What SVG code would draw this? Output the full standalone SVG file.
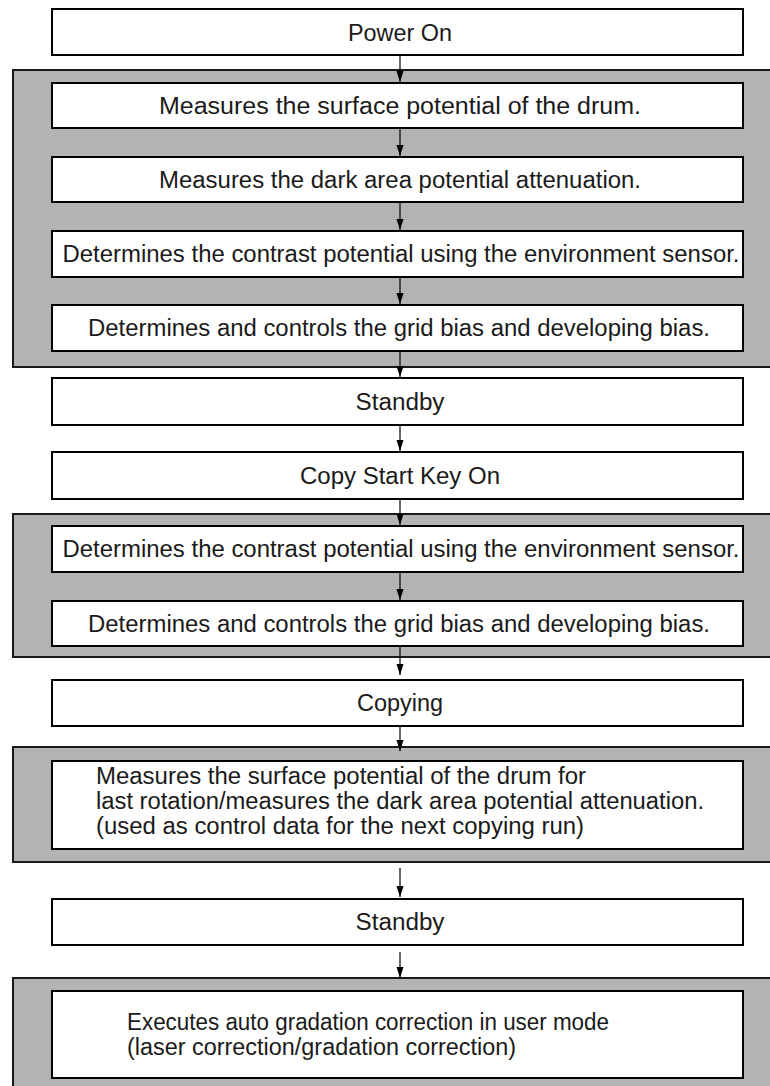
<svg xmlns="http://www.w3.org/2000/svg" width="770" height="1086" viewBox="0 0 770 1086">
<style>
.bg{fill:#ffffff}
.panel{fill:#b3b3b3;stroke:#1a1a1a;stroke-width:2}
.box{fill:#ffffff;stroke:#000000;stroke-width:2}
.t{font-family:"Liberation Sans",Arial,Helvetica,sans-serif;font-size:23px;fill:#1a1a1a}
.c{text-anchor:middle}
.edge{stroke:#000000;stroke-width:1.2;fill:none;marker-end:url(#arr)}
</style>
<defs>
<marker id="arr" markerUnits="userSpaceOnUse" markerWidth="12" markerHeight="8" refX="11" refY="4" orient="auto">
<path d="M0,0.5 L11,4 L0,7.5 z" fill="#000000"/>
</marker>
</defs>
<rect class="bg" x="0" y="0" width="770" height="1086"/>
<g id="panel1"><rect class="panel" x="13" y="70" width="770" height="297"/></g>
<g id="panel2"><rect class="panel" x="13" y="514" width="770" height="143"/></g>
<g id="panel3"><rect class="panel" x="13" y="747" width="770" height="115"/></g>
<g id="panel4"><rect class="panel" x="13" y="978" width="770" height="130"/></g>

<g id="connectors">
<line class="edge" x1="400" y1="55" x2="400" y2="82"/>
<line class="edge" x1="400" y1="128" x2="400" y2="156"/>
<line class="edge" x1="400" y1="202" x2="400" y2="230"/>
<line class="edge" x1="400" y1="277" x2="400" y2="304"/>
<line class="edge" x1="400" y1="351" x2="400" y2="377"/>
<line class="edge" x1="400" y1="425" x2="400" y2="451"/>
<line class="edge" x1="400" y1="499" x2="400" y2="525"/>
<line class="edge" x1="400" y1="572" x2="400" y2="600"/>
<line class="edge" x1="400" y1="646" x2="400" y2="675"/>
<line class="edge" x1="400" y1="726" x2="400" y2="751"/>
<line class="edge" x1="400" y1="868" x2="400" y2="897"/>
<line class="edge" x1="400" y1="952" x2="400" y2="978"/>
</g>

<g id="n1"><rect class="box" x="52" y="9" width="691" height="46"/><text class="t c" x="400" y="40.5" textLength="104" lengthAdjust="spacingAndGlyphs">Power On</text></g>
<g id="n2"><rect class="box" x="52" y="83" width="691" height="45"/><text class="t c" x="400" y="113.5" textLength="482" lengthAdjust="spacingAndGlyphs">Measures the surface potential of the drum.</text></g>
<g id="n3"><rect class="box" x="52" y="157" width="691" height="45"/><text class="t c" x="400" y="187.5" textLength="482" lengthAdjust="spacingAndGlyphs">Measures the dark area potential attenuation.</text></g>
<g id="n4"><rect class="box" x="52" y="231" width="691" height="46"/><text class="t c" x="401" y="262" textLength="677" lengthAdjust="spacingAndGlyphs">Determines the contrast potential using the environment sensor.</text></g>
<g id="n5"><rect class="box" x="52" y="305" width="691" height="46"/><text class="t c" x="399" y="336" textLength="622" lengthAdjust="spacingAndGlyphs">Determines and controls the grid bias and developing bias.</text></g>
<g id="n6"><rect class="box" x="52" y="378" width="691" height="47"/><text class="t c" x="400" y="409.5" textLength="89" lengthAdjust="spacingAndGlyphs">Standby</text></g>
<g id="n7"><rect class="box" x="52" y="452" width="691" height="47"/><text class="t c" x="400" y="483.5" textLength="200" lengthAdjust="spacingAndGlyphs">Copy Start Key On</text></g>
<g id="n8"><rect class="box" x="52" y="526" width="691" height="46"/><text class="t c" x="401" y="557" textLength="677" lengthAdjust="spacingAndGlyphs">Determines the contrast potential using the environment sensor.</text></g>
<g id="n9"><rect class="box" x="52" y="601" width="691" height="45"/><text class="t c" x="399" y="631.5" textLength="622" lengthAdjust="spacingAndGlyphs">Determines and controls the grid bias and developing bias.</text></g>
<g id="n10"><rect class="box" x="52" y="680" width="691" height="46"/><text class="t c" x="400" y="711" textLength="86" lengthAdjust="spacingAndGlyphs">Copying</text></g>
<g id="n11"><rect class="box" x="52" y="761" width="691" height="88"/>
<text class="t" x="96" y="784" textLength="490" lengthAdjust="spacingAndGlyphs">Measures the surface potential of the drum for</text>
<text class="t" x="96" y="809" textLength="608" lengthAdjust="spacingAndGlyphs">last rotation/measures the dark area potential attenuation.</text>
<text class="t" x="96" y="834" textLength="488" lengthAdjust="spacingAndGlyphs">(used as control data for the next copying run)</text></g>
<g id="n12"><rect class="box" x="52" y="899" width="691" height="46"/><text class="t c" x="400" y="930" textLength="89" lengthAdjust="spacingAndGlyphs">Standby</text></g>
<g id="n13"><rect class="box" x="52" y="991" width="691" height="87"/>
<text class="t" x="127" y="1030" textLength="482" lengthAdjust="spacingAndGlyphs">Executes auto gradation correction in user mode</text>
<text class="t" x="127" y="1055" textLength="389" lengthAdjust="spacingAndGlyphs">(laser correction/gradation correction)</text></g>
</svg>
